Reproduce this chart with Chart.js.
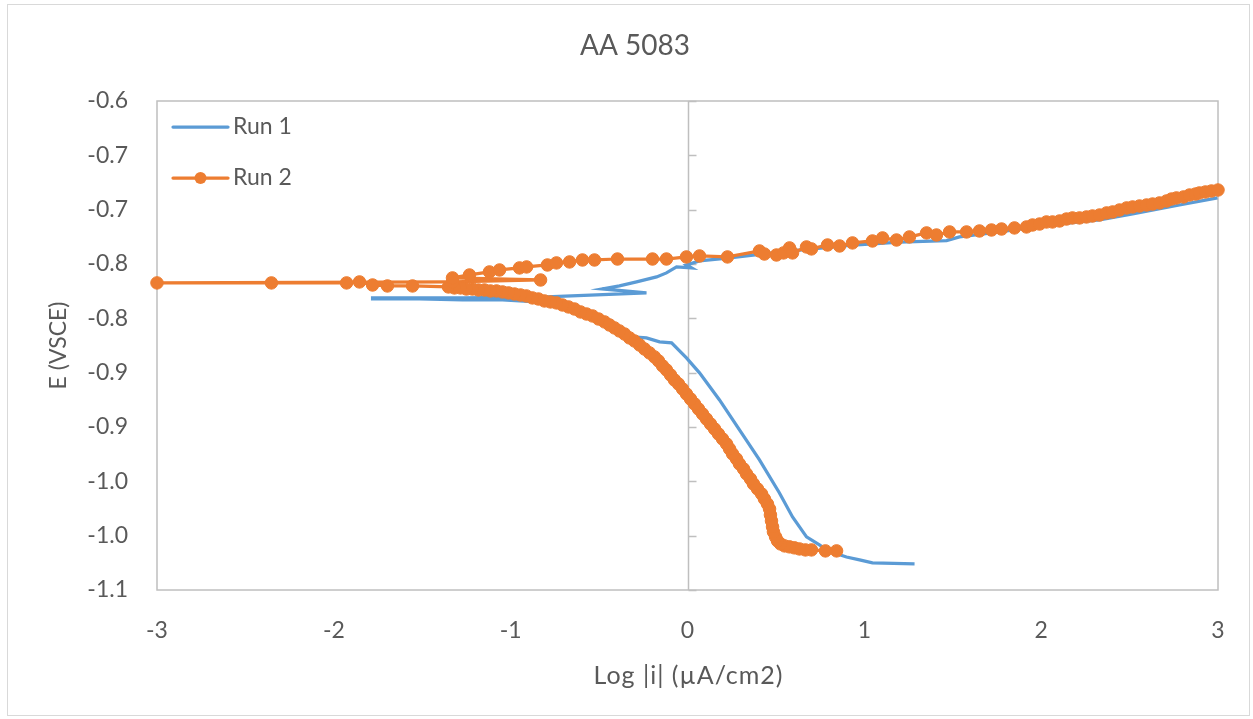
<!DOCTYPE html>
<html>
<head>
<meta charset="utf-8">
<title>AA 5083</title>
<script src="https://cdn.jsdelivr.net/npm/chart.js@4.4.1/dist/chart.umd.min.js"></script>
<style>
    html, body { margin: 0; padding: 0; background: #fff; }
    #grafico-container { position: relative; width: 1253px; height: 719px; }
</style>
</head>
<body>
<div id="grafico-container"><canvas id="graficoPolarizacion"></canvas></div>
<script>
// Run 1: barrido catódico (abajo a la derecha) y luego anódico
const run1X = [1.284, 1.046, 0.973, 0.899, 0.848, 0.786, 0.746, 0.673, 0.594, 0.520,
    0.407, 0.294, 0.181, 0.068, -0.006, -0.090, -0.158, -0.232, -0.311, -0.385,
    -0.441, -0.667, -0.854, -1.046, -1.272, -1.516, -1.781,
    -1.781, -1.272, -0.797, -0.232, -0.481, -0.385, -0.288, -0.175, -0.119, -0.062,
    0.023, -0.006, 0.068, 0.226, 0.407, 0.633, 0.916, 1.199, 1.465, 1.538,
    1.764, 2.047, 2.330, 2.517, 2.782, 2.997];
const run1Y = [-1.0260, -1.0251, -1.0223, -1.0196, -1.0168, -1.0131, -1.0085, -1.0011, -0.9828, -0.9607,
    -0.9303, -0.9027, -0.8751, -0.8502, -0.8364, -0.8226, -0.8217, -0.8180, -0.8171, -0.8079,
    -0.8015, -0.7923, -0.7849, -0.7831, -0.7831, -0.7822, -0.7822,
    -0.7812, -0.7812, -0.7803, -0.7766, -0.7730, -0.7702, -0.7665, -0.7619, -0.7582, -0.7527,
    -0.7536, -0.7509, -0.7472, -0.7445, -0.7412, -0.7372, -0.7328, -0.7298, -0.7285, -0.7251,
    -0.7205, -0.7141, -0.7095, -0.7040, -0.6957, -0.6892];

// Run 2
const run2X = [0.843, 0.780, 0.701, 0.667, 0.633, 0.605, 0.577, 0.549, 0.526, 0.509,
    0.498, 0.486, 0.481, 0.475, 0.469, 0.464, 0.452, 0.435, 0.419, 0.396,
    0.373, 0.356, 0.334, 0.317, 0.294, 0.277, 0.255, 0.238, 0.221, 0.198,
    0.175, 0.153, 0.130, 0.107, 0.085, 0.062, 0.040, 0.017, -0.006, -0.028,
    -0.051, -0.074, -0.096, -0.119, -0.141, -0.164, -0.187, -0.215, -0.243, -0.271,
    -0.300, -0.328, -0.356, -0.385, -0.413, -0.441, -0.469, -0.503, -0.537, -0.571,
    -0.605, -0.639, -0.673, -0.707, -0.741, -0.775, -0.809, -0.843, -0.877, -0.911,
    -0.944, -0.978, -1.012, -1.046, -1.080, -1.114, -1.148, -1.182, -1.216, -1.250,
    -1.284, -1.318, -1.352, -1.555, -1.697, -1.781, -1.855, -1.928, -2.353, -3.000,
    -1.329, -0.831, -1.329, -1.233, -1.120, -1.063, -0.950, -0.910, -0.792, -0.741,
    -0.667, -0.594, -0.526, -0.396, -0.198, -0.119, -0.006, 0.068, 0.226, 0.407,
    0.435, 0.503, 0.543, 0.577, 0.594, 0.673, 0.701, 0.792, 0.860, 0.933,
    1.046, 1.103, 1.182, 1.255, 1.352, 1.408, 1.482, 1.578, 1.651, 1.719,
    1.776, 1.849, 1.917, 1.951, 1.991, 2.030, 2.064, 2.104, 2.143, 2.177,
    2.217, 2.256, 2.290, 2.330, 2.370, 2.404, 2.443, 2.483, 2.517, 2.556,
    2.596, 2.630, 2.669, 2.709, 2.737, 2.765, 2.805, 2.839, 2.873, 2.895,
    2.929, 2.963, 3.000];
const run2Y = [-1.0140, -1.0140, -1.0131, -1.0131, -1.0122, -1.0112, -1.0103, -1.0094, -1.0076, -1.0048,
    -1.0011, -0.9965, -0.9919, -0.9864, -0.9809, -0.9754, -0.9708, -0.9662, -0.9616, -0.9570,
    -0.9524, -0.9478, -0.9432, -0.9386, -0.9340, -0.9294, -0.9248, -0.9202, -0.9156, -0.9110,
    -0.9064, -0.9018, -0.8972, -0.8926, -0.8880, -0.8834, -0.8788, -0.8742, -0.8696, -0.8650,
    -0.8604, -0.8567, -0.8521, -0.8475, -0.8438, -0.8392, -0.8355, -0.8318, -0.8282, -0.8245,
    -0.8208, -0.8180, -0.8144, -0.8116, -0.8088, -0.8061, -0.8033, -0.8006, -0.7978, -0.7960,
    -0.7941, -0.7914, -0.7895, -0.7877, -0.7858, -0.7849, -0.7840, -0.7822, -0.7812, -0.7794,
    -0.7785, -0.7776, -0.7766, -0.7757, -0.7748, -0.7748, -0.7739, -0.7739, -0.7730, -0.7730,
    -0.7720, -0.7720, -0.7711, -0.7702, -0.7702, -0.7693, -0.7665, -0.7674, -0.7674, -0.7674,
    -0.7665, -0.7647, -0.7628, -0.7601, -0.7573, -0.7555, -0.7536, -0.7527, -0.7509, -0.7490,
    -0.7481, -0.7463, -0.7463, -0.7454, -0.7454, -0.7454, -0.7435, -0.7426, -0.7435, -0.7380,
    -0.7408, -0.7417, -0.7398, -0.7352, -0.7398, -0.7343, -0.7361, -0.7325, -0.7334, -0.7306,
    -0.7288, -0.7260, -0.7279, -0.7251, -0.7214, -0.7233, -0.7205, -0.7205, -0.7196, -0.7187,
    -0.7178, -0.7168, -0.7159, -0.7141, -0.7132, -0.7113, -0.7113, -0.7104, -0.7086, -0.7076,
    -0.7076, -0.7067, -0.7058, -0.7049, -0.7030, -0.7021, -0.7003, -0.6984, -0.6975, -0.6966,
    -0.6957, -0.6948, -0.6938, -0.6920, -0.6902, -0.6892, -0.6883, -0.6865, -0.6856, -0.6846,
    -0.6837, -0.6828, -0.6819];

const xTicks = [-3, -2, -1, 0, 1, 2, 3];
const yTicks = [-1.05, -1.0, -0.95, -0.9, -0.85, -0.8, -0.75, -0.7, -0.65, -0.6];
const yTickLabels = ['-1.1', '-1.0', '-1.0', '-0.9', '-0.9', '-0.8', '-0.8', '-0.7', '-0.7', '-0.6'];

const TITULO = 'AA 5083';
const TITULO_X = 'Log |i| (µA/cm2)';
const TITULO_Y = 'E (VSCE)';

const FUENTE = 'Lato, "Open Sans", sans-serif';
const GRIS_TEXTO = '#595959';
const AZUL = '#5B9BD5';
const NARANJA = '#ED7D31';

const toPoints = (xs, ys) => xs.map((x, i) => ({ x: x, y: ys[i] }));

// marco exterior, recuadro del área de trazado, eje vertical en x = 0, títulos y leyenda
const marcoExcel = {
    id: 'marcoExcel',
    beforeDraw(chart) {
        const ctx = chart.ctx;
        ctx.save();
        ctx.fillStyle = '#fff';
        ctx.fillRect(0, 0, chart.width, chart.height);
        ctx.strokeStyle = '#d9d9d9';
        ctx.lineWidth = 1;
        ctx.strokeRect(7.5, 4.5, chart.width - 11, chart.height - 8);
        ctx.restore();
    },
    beforeDatasetsDraw(chart) {
        const { ctx, chartArea: a, scales: { x, y } } = chart;
        ctx.save();
        ctx.strokeStyle = '#bfbfbf';
        ctx.lineWidth = 1.5;
        ctx.strokeRect(a.left, a.top, a.right - a.left, a.bottom - a.top);
        const x0 = Math.round(x.getPixelForValue(0)) + 0.5;
        ctx.beginPath();
        ctx.moveTo(x0, a.top);
        ctx.lineTo(x0, a.bottom);
        y.ticks.forEach(t => {
            const py = Math.round(y.getPixelForValue(t.value)) + 0.5;
            ctx.moveTo(x0, py);
            ctx.lineTo(x0 + 8, py);
        });
        ctx.stroke();
        ctx.restore();
    },
    afterDraw(chart) {
        const { ctx, chartArea: a } = chart;
        ctx.save();
        ctx.fillStyle = GRIS_TEXTO;
        ctx.textAlign = 'center';
        ctx.textBaseline = 'middle';
        ctx.font = '28px ' + FUENTE;
        ctx.fillText(TITULO, 635, 46);
        ctx.font = '25px ' + FUENTE;
        if ('letterSpacing' in ctx) ctx.letterSpacing = '1px';
        ctx.fillText(TITULO_X, (a.left + a.right) / 2 + 1, 676);
        if ('letterSpacing' in ctx) ctx.letterSpacing = '0px';

        // leyenda dentro del área de trazado
        ctx.font = '23px ' + FUENTE;
        ctx.textAlign = 'left';
        chart.data.datasets.forEach((ds, i) => {
            const yy = a.top + 26 + i * 51;
            const x1 = a.left + 16, x2 = a.left + 71;
            ctx.strokeStyle = ds.borderColor;
            ctx.lineWidth = 3.25;
            ctx.lineCap = 'round';
            ctx.beginPath();
            ctx.moveTo(x1, yy);
            ctx.lineTo(x2, yy);
            ctx.stroke();
            if (ds.pointRadius > 0) {
                ctx.fillStyle = ds.pointBackgroundColor;
                ctx.beginPath();
                ctx.arc((x1 + x2) / 2, yy, 6, 0, Math.PI * 2);
                ctx.fill();
            }
            ctx.fillStyle = GRIS_TEXTO;
            ctx.fillText(ds.label, x2 + 5, yy);
        });
        ctx.restore();
    }
};

const ctx = document.getElementById('graficoPolarizacion').getContext('2d');

new Chart(ctx, {
    type: 'scatter',
    data: {
        datasets: [{
            label: 'Run 1',
            data: toPoints(run1X, run1Y),
            showLine: true,
            borderColor: AZUL,
            backgroundColor: AZUL,
            borderWidth: 3.25,
            pointRadius: 0,
            pointBackgroundColor: AZUL,
            tension: 0,
            clip: false,
            order: 1
        }, {
            label: 'Run 2',
            data: toPoints(run2X, run2Y),
            showLine: true,
            borderColor: NARANJA,
            backgroundColor: NARANJA,
            borderWidth: 3.25,
            pointRadius: 6.25,
            pointBorderWidth: 1,
            pointBackgroundColor: NARANJA,
            pointBorderColor: NARANJA,
            tension: 0,
            clip: false,
            order: 0
        }]
    },
    options: {
        responsive: true,
        maintainAspectRatio: false,
        animation: false,
        events: [],
        layout: {
            padding: { left: 0, right: 35, top: 101, bottom: 0 }
        },
        scales: {
            x: {
                type: 'linear',
                min: -3,
                max: 3,
                afterBuildTicks: s => { s.ticks = xTicks.map(v => ({ value: v })); },
                afterFit: s => { s.height = 129; },
                grid: { display: false, drawTicks: false },
                border: { display: false },
                ticks: {
                    padding: 27,
                    color: GRIS_TEXTO,
                    font: { family: FUENTE, size: 23 },
                    callback: value => String(value)
                },
                title: { display: false }
            },
            y: {
                type: 'linear',
                min: -1.05,
                max: -0.6,
                afterBuildTicks: s => { s.ticks = yTicks.map(v => ({ value: v })); },
                afterFit: s => { s.width = 157; },
                grid: { display: false, drawTicks: false },
                border: { display: false },
                ticks: {
                    padding: 29,
                    color: GRIS_TEXTO,
                    font: { family: FUENTE, size: 23 },
                    callback: (value, index) => yTickLabels[index]
                },
                title: {
                    display: true,
                    text: TITULO_Y,
                    color: GRIS_TEXTO,
                    font: { family: FUENTE, size: 23 },
                    padding: { top: 45, bottom: 0 }
                }
            }
        },
        plugins: {
            legend: { display: false },
            tooltip: { enabled: false },
            title: { display: false }
        }
    },
    plugins: [marcoExcel]
});
</script>
</body>
</html>
